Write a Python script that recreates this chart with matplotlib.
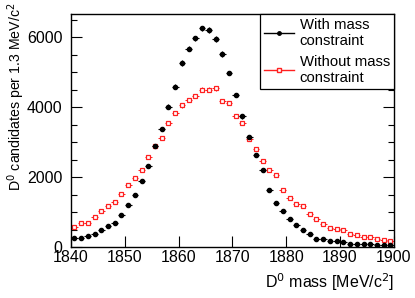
import numpy as np
import matplotlib
matplotlib.use('Agg')
import matplotlib.pyplot as plt
from matplotlib.ticker import MultipleLocator
from matplotlib.lines import Line2D

plt.rcParams['font.family'] = ['Liberation Sans', 'DejaVu Sans']

# bin centres: 48 bins of 1.25 MeV between 1840 and 1900
lo, hi, nbins = 1840.0, 1900.0, 48
edges = np.linspace(lo, hi, nbins + 1)
mass = 0.5 * (edges[:-1] + edges[1:])
half = 0.5 * (edges[1] - edges[0])

with_mc = [266, 266, 305, 371, 495, 590, 695, 905, 1190, 1475, 1895, 2324,
           2886, 3381, 4010, 4581, 5257, 5667, 5962, 6248, 6200, 5943, 5514, 4971,
           4343, 3733, 3152, 2619, 2210, 1619, 1257, 1019, 810, 619, 486, 381,
           238, 238, 181, 181, 143, 95, 95, 76, 76, 57, 57, 57]
without_mc = [581, 686, 695, 867, 1038, 1171, 1295, 1524, 1781, 1962, 2200, 2581,
              2886, 3124, 3543, 3838, 4048, 4200, 4314, 4495, 4495, 4533, 4171, 4114,
              3743, 3543, 3086, 2790, 2448, 2190, 2057, 1619, 1390, 1238, 1162, 933,
              800, 648, 543, 505, 495, 381, 333, 276, 276, 229, 200, 171]

with_mc = np.array(with_mc)
without_mc = np.array(without_mc)

red = '#ff2020'

fig = plt.figure(figsize=(4.15, 2.98), dpi=100)
ax = fig.add_axes([0.171, 0.171, 0.778, 0.782])

ax.errorbar(mass, without_mc, xerr=half, yerr=np.sqrt(without_mc), fmt='s',
            ms=3.5, mfc='white', mec=red, mew=0.9, ecolor=red,
            elinewidth=0.7, capsize=0, zorder=2)
ax.errorbar(mass, with_mc, xerr=half, yerr=np.sqrt(with_mc), fmt='o',
            ms=3, color='black', ecolor='black', elinewidth=0.8, capsize=0,
            zorder=3)

ax.set_xlim(lo, hi)
ax.set_ylim(0, 6657)
ax.xaxis.set_major_locator(MultipleLocator(10))
ax.yaxis.set_major_locator(MultipleLocator(2000))
ax.yaxis.set_minor_locator(MultipleLocator(500))
ax.tick_params(which='both', direction='in', right=True, top=False,
               width=0.8)
ax.tick_params(axis='x', labelsize=11.5, pad=2)
ax.tick_params(axis='y', labelsize=11.5, pad=6)
ax.tick_params(which='major', length=8)
ax.tick_params(which='minor', length=4)
for s in ax.spines.values():
    s.set_linewidth(1.0)

ax.set_xlabel('D$^0$ mass [MeV/c$^2$]', fontsize=11.5, ha='right')
ax.xaxis.set_label_coords(1.0, -0.105)
ax.set_ylabel('D$^0$ candidates per 1.3 MeV/c$^2$', fontsize=10.2, ha='right')
ax.yaxis.set_label_coords(-0.135, 1.05)

handles = [Line2D([], [], color='black', lw=1, marker='o', ms=2.5),
           Line2D([], [], color=red, lw=1, marker='s', ms=3, mfc='white', mec=red)]
labels = ['With mass\nconstraint', 'Without mass\nconstraint']
leg = ax.legend(handles, labels, loc='upper right', bbox_to_anchor=(1.0, 1.0),
                fontsize=10.7, frameon=True, fancybox=False, edgecolor='black',
                framealpha=1, borderaxespad=0, handlelength=2.0,
                labelspacing=0.45, handletextpad=0.4, borderpad=0.25)
leg.get_frame().set_linewidth(0.9)

fig.savefig('out.png', dpi=100)
